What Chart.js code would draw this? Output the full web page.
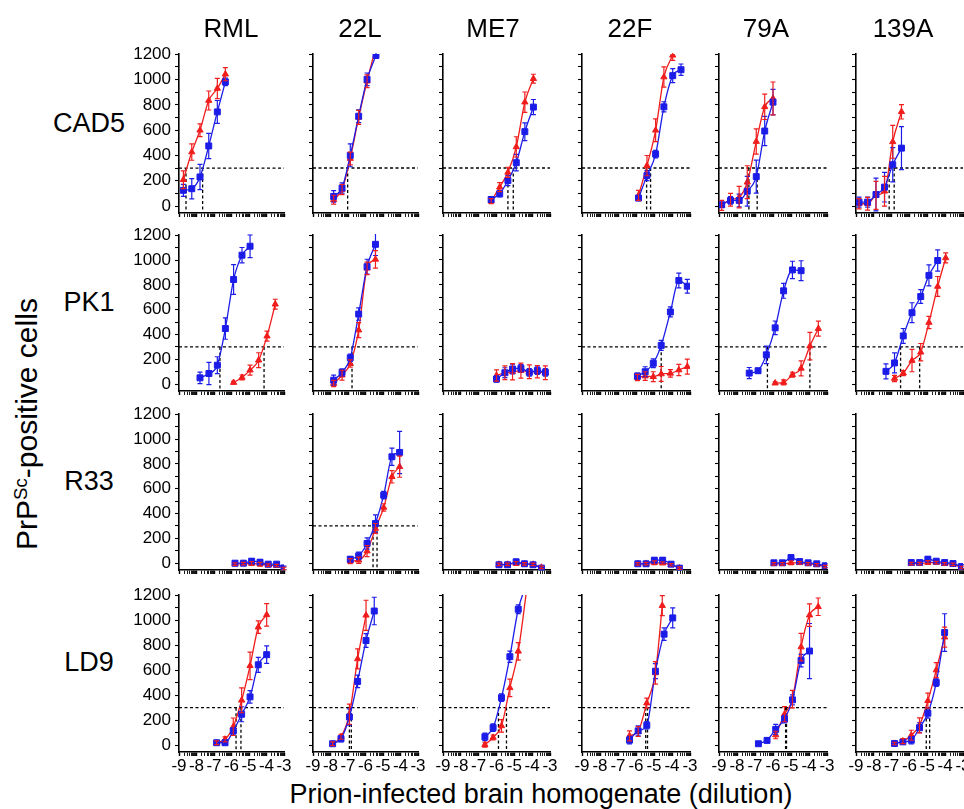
<!DOCTYPE html>
<html><head><meta charset="utf-8">
<script src="https://cdn.jsdelivr.net/npm/chart.js@4.4.1/dist/chart.umd.min.js"></script>
<style>
html,body{margin:0;padding:0;background:#fff;}
#fig{position:relative;width:964px;height:809px;overflow:hidden;background:#fff;font-family:"Liberation Sans",Arial,sans-serif;color:#000;}
.lbl{position:absolute;line-height:1;white-space:nowrap;transform:translate(-50%,-50%);}
.ytitle{position:absolute;line-height:1;white-space:nowrap;transform:translate(-50%,-50%) rotate(-90deg);}
.ytitle sup{font-size:0.62em;vertical-align:0.55em;line-height:0;}
canvas{position:absolute;}
</style></head><body><div id="fig"></div>
<script>
// ---------- data ----------
const strains = ['RML', '22L', 'ME7', '22F', '79A', '139A'];
const cellLines = ['CAD5', 'PK1', 'R33', 'LD9'];
const xTickLabels = [-9, -8, -7, -6, -5, -4, -3];
const yTickValues = [0, 100, 200, 300, 400, 500, 600, 700, 800, 900, 1000, 1100, 1200];
const threshold = 300;

// CAD5 row (one inner array per strain)
const cad5BlueX = [[-8.75,-8.27,-7.8,-7.3,-6.81,-6.35],[-7.82,-7.34,-6.87,-6.39,-5.91,-5.4],[-6.3,-5.82,-5.36,-4.89,-4.41,-3.93],[-5.86,-5.39,-4.91,-4.45,-3.96,-3.5],[-8.85,-8.36,-7.88,-7.43,-6.93,-6.46,-6.0],[-8.83,-8.35,-7.88,-7.4,-6.94,-6.45]];
const cad5BlueY = [[124,137,230,475,744,981],[76,142,400,709,1000,1190],[52,97,201,342,587,781],[63,240,410,783,1029,1076],[10,44,44,117,232,592,820],[31,31,91,149,326,457]];
const cad5BlueErr = [[47,80,100,100,90,30],[45,40,90,50,50,25],[20,25,40,65,70,60],[20,40,30,40,55,45],[20,30,50,117,130,115,100],[40,40,130,117,135,170]];
const cad5RedX = [[-8.75,-8.27,-7.8,-7.3,-6.81,-6.35],[-7.82,-7.34,-6.87,-6.39,-5.91,-5.4],[-6.3,-5.82,-5.36,-4.89,-4.41,-3.93],[-5.86,-5.39,-4.91,-4.45,-3.96],[-8.85,-8.36,-7.88,-7.43,-6.93,-6.46,-6.0],[-8.83,-8.35,-7.88,-7.4,-6.94,-6.45]];
const cad5RedY = [[208,427,599,834,929,1042],[50,130,375,700,985,1260],[39,149,266,467,820,1005],[84,319,598,1018,1190],[5,50,70,188,509,783,849],[18,18,84,117,507,744]];
const cad5RedErr = [[70,65,50,75,80,52],[35,40,50,55,50,0],[20,35,40,80,80,35],[40,80,90,80,40],[40,50,85,130,100,100,130],[40,50,110,117,130,57]];
const cad5Cross = [[-7.65,-8.6],[-7.02],[-5.06,-5.36],[-5.19,-5.41],[-6.88,-7.34],[-6.86,-7.14]];

// PK1 row
const pk1BlueX = [[-7.8,-7.29,-6.81,-6.35,-5.88,-5.4,-4.94],[-7.82,-7.34,-6.87,-6.39,-5.91,-5.43],[-6.0,-5.53,-5.1,-4.63,-4.16,-3.71,-3.26],[-5.92,-5.49,-5.04,-4.6,-4.09,-3.62,-3.15],[-7.32,-6.83,-6.37,-5.88,-5.41,-4.92,-4.44],[-7.32,-6.84,-6.35,-5.86,-5.37,-4.91,-4.42]];
const pk1BlueY = [[51,86,153,448,843,1039,1111],[32,94,212,564,945,1125],[41,92,122,128,95,109,95],[65,100,168,312,581,834,788],[89,108,236,453,751,919,913],[103,171,388,575,705,875,995]];
const pk1BlueErr = [[46,90,68,86,120,62,92],[40,30,30,50,60,90],[25,40,40,30,30,30,30],[25,40,35,40,40,60,55],[45,20,70,55,60,70,80],[60,80,60,80,55,85,85]];
const pk1RedX = [[-5.88,-5.4,-4.94,-4.45,-3.97,-3.5],[-7.82,-7.34,-6.87,-6.39,-5.91,-5.43],[-6.0,-5.53,-5.1,-4.63,-4.16,-3.71,-3.26],[-5.92,-5.49,-5.04,-4.6,-4.09,-3.62,-3.15],[-5.88,-5.41,-4.92,-4.44,-3.95,-3.48],[-6.84,-6.35,-5.86,-5.37,-4.91,-4.42,-3.97]];
const pk1RedY = [[13,54,113,193,387,644],[5,72,166,435,932,1004],[70,92,100,109,100,100,92],[54,65,60,82,87,114,141],[8,14,76,127,306,447],[46,89,190,257,496,786,1016]];
const pk1RedErr = [[10,20,40,60,40,40],[25,40,30,60,50,70],[45,55,65,60,55,50,55],[25,35,40,60,30,45,60],[10,20,20,60,110,60],[25,20,90,70,50,80,40]];
const pk1Cross = [[-6.66,-4.14],[-6.77],null,[-4.6],[-6.31,-3.95],[-6.5,-5.43]];

// R33 row
const r33BlueX = [[-5.8,-5.32,-4.85,-4.37,-3.9,-3.42,-3.0],[-6.87,-6.39,-5.91,-5.43,-4.96,-4.49,-4.05],[-5.86,-5.38,-4.9,-4.43,-3.95,-3.48],[-5.9,-5.44,-4.98,-4.52,-4.05,-3.59],[-5.95,-5.48,-5.0,-4.52,-4.05,-3.57,-3.1],[-5.9,-5.43,-4.97,-4.5,-4.03,-3.56,-3.09]];
const r33BlueY = [[0,0,16,8,-8,-8,-38],[32,59,158,319,547,856,891],[-13,-13,11,-5,-13,-40],[-5,-5,24,24,-8,-40],[3,3,45,13,3,-5,-21],[5,5,32,16,5,-3,-27]];
const r33BlueErr = [[15,15,20,20,15,15,15],[20,30,45,70,30,70,170],[15,15,20,15,15,15],[15,15,20,20,15,15],[15,15,20,15,15,15,15],[15,15,20,15,15,15,15]];
const r33RedX = [[-5.8,-5.32,-4.85,-4.37,-3.9,-3.42,-3.0],[-6.87,-6.39,-5.91,-5.43,-4.96,-4.49,-4.05],[-5.86,-5.38,-4.9,-4.43,-3.95,-3.48],[-5.9,-5.44,-4.98,-4.52,-4.05,-3.59],[-5.95,-5.48,-5.0,-4.52,-4.05,-3.57,-3.1],[-5.9,-5.43,-4.97,-4.5,-4.03,-3.56,-3.09]];
const r33RedY = [[-8,-3,-3,-8,-16,-19,-43],[16,24,97,279,448,695,776],[-10,-10,-3,-5,-10,-34],[-5,-3,3,0,-13,-40],[-5,-5,3,3,-5,-13,-27],[-3,-3,5,5,-5,-10,-35]];
const r33RedErr = [[10,10,15,15,10,10,10],[20,25,45,40,30,50,85],[10,10,15,10,10,10],[10,10,15,10,10,10],[10,10,15,10,10,10,10],[10,10,15,10,10,10,10]];
const r33Cross = [null,[-5.57,-5.34],null,null,null,null];

// LD9 row
const ld9BlueX = [[-6.85,-6.37,-5.9,-5.42,-4.94,-4.47,-3.99],[-7.88,-7.4,-6.92,-6.45,-5.97,-5.5],[-6.65,-6.19,-5.72,-5.25,-4.78,-4.31],[-6.36,-5.88,-5.4,-4.92,-4.44,-3.96],[-6.81,-6.33,-5.85,-5.36,-4.92,-4.44,-3.97],[-6.84,-6.37,-5.9,-5.44,-4.97,-4.5,-4.03]];
const ld9BlueY = [[19,19,113,247,386,643,724],[11,51,225,509,836,1072],[66,140,379,707,1086,1290],[40,114,159,591,887,1017],[11,38,126,207,362,676,752],[13,26,39,139,255,500,900]];
const ld9BlueErr = [[15,15,25,60,50,60,70],[15,25,65,50,55,110],[30,30,30,45,35,0],[30,40,30,60,50,80],[15,20,40,30,40,50,220],[10,15,30,40,40,30,150]];
const ld9RedX = [[-6.85,-6.37,-5.9,-5.42,-4.94,-4.47,-3.99],[-7.88,-7.4,-6.92,-6.45,-5.97],[-6.65,-6.19,-5.72,-5.25,-4.78,-4.31],[-6.36,-5.88,-5.4,-4.92,-4.54],[-5.85,-5.36,-4.92,-4.44,-3.97,-3.49],[-6.84,-6.37,-5.9,-5.44,-4.97,-4.5,-4.03]];
const ld9RedY = [[19,46,147,359,635,944,1043],[11,67,247,689,1038],[3,61,154,458,750,1240],[74,109,336,577,1115],[81,247,368,784,1039,1106],[13,32,79,158,355,600,863]];
const ld9RedErr = [[15,20,70,100,110,50,90],[15,20,80,80,120],[20,20,50,70,70,0],[40,40,40,90,80],[30,60,70,110,90,70],[10,20,40,60,60,60,80]];
const ld9Cross = [[-5.46,-5.74],[-6.81,-6.92],[-5.89,-5.44],[-5.36,-5.46],[-5.25,-5.3],[-4.87,-5.06]];

// ---------- layout / style ----------
const FONT = '"Liberation Sans", Arial, sans-serif';
const colAxisX = [179, 313, 443, 582, 719, 856];
const colPlotW = [105, 105, 107, 108, 108, 107];
const colHeadX = [231, 360, 493, 630, 766, 903];
const rowTop = [54, 235, 414, 595];
const rowPlotH = [159, 156, 156, 157];
const rowLabelY = [123, 302, 481, 662];
const Y_MIN = -55, Y_MAX = 1200;
const BLUE = '#1c1ce8', RED = '#f01d1d';

const rows = [
  {bx: cad5BlueX, by: cad5BlueY, be: cad5BlueErr, rx: cad5RedX, ry: cad5RedY, re: cad5RedErr, cross: cad5Cross},
  {bx: pk1BlueX, by: pk1BlueY, be: pk1BlueErr, rx: pk1RedX, ry: pk1RedY, re: pk1RedErr, cross: pk1Cross},
  {bx: r33BlueX, by: r33BlueY, be: r33BlueErr, rx: r33RedX, ry: r33RedY, re: r33RedErr, cross: r33Cross},
  {bx: ld9BlueX, by: ld9BlueY, be: ld9BlueErr, rx: ld9RedX, ry: ld9RedY, re: ld9RedErr, cross: ld9Cross}
];

const xTickPositions = [];
xTickLabels.forEach(n => {
  xTickPositions.push(n);
  if (n < -3) for (let k = 2; k <= 9; k++) xTickPositions.push(n + Math.log10(k));
});

const fig = document.getElementById('fig');
function addLabel(html, x, y, size, cls) {
  const d = document.createElement('div');
  d.className = cls || 'lbl';
  d.style.left = x + 'px'; d.style.top = y + 'px'; d.style.fontSize = size + 'px';
  d.innerHTML = html;
  fig.appendChild(d);
}

const errorBars = {
  id: 'errorBars',
  afterDatasetsDraw(chart) {
    const {ctx, chartArea, scales: {x, y}} = chart;
    ctx.save();
    ctx.beginPath();
    ctx.rect(chartArea.left - 4, chartArea.top - 1, chartArea.right - chartArea.left + 8, chartArea.bottom - chartArea.top + 2);
    ctx.clip();
    chart.data.datasets.forEach(ds => {
      if (!ds.errors) return;
      ctx.strokeStyle = ds.borderColor;
      ctx.lineWidth = 1.2;
      ds.data.forEach((pt, j) => {
        const e = ds.errors[j];
        if (!e) return;
        const px = x.getPixelForValue(pt.x);
        const t = y.getPixelForValue(pt.y + e), b = y.getPixelForValue(pt.y - e);
        ctx.beginPath();
        ctx.moveTo(px, t); ctx.lineTo(px, b);
        ctx.moveTo(px - 2.5, t); ctx.lineTo(px + 2.5, t);
        ctx.moveTo(px - 2.5, b); ctx.lineTo(px + 2.5, b);
        ctx.stroke();
      });
    });
    ctx.restore();
  }
};

function series(xs, ys, errs, color, style, radius) {
  return {
    data: xs.map((v, i) => ({x: v, y: ys[i]})),
    errors: errs,
    borderColor: color, backgroundColor: color,
    pointBackgroundColor: color, pointBorderColor: color,
    pointStyle: style, pointRadius: radius, pointBorderWidth: 1,
    borderWidth: 1.3, cubicInterpolationMode: 'monotone', order: 1
  };
}

function dashed(points) {
  return {data: points, borderColor: '#000', borderWidth: 1.3, borderDash: [3, 2.5],
          pointRadius: 0, order: 10, clip: 0};
}

function makeConfig(r, c) {
  const R = rows[r];
  const datasets = [];
  const cross = R.cross[c];
  if (cross) {
    datasets.push(dashed([{x: -9, y: threshold}, {x: -3, y: threshold}]));
    cross.forEach(cx => datasets.push(dashed([{x: cx, y: threshold}, {x: cx, y: Y_MIN}])));
  }
  datasets.push(series(R.bx[c], R.by[c], R.be[c], BLUE, 'rect', 4.2));
  datasets.push(series(R.rx[c], R.ry[c], R.re[c], RED, 'triangle', 3.6));
  return {
    type: 'line',
    data: {datasets},
    plugins: [errorBars],
    options: {
      responsive: false, maintainAspectRatio: false, animation: false, events: [],
      layout: {padding: {top: 14, right: 14, left: 0, bottom: 0}},
      plugins: {legend: {display: false}, tooltip: {enabled: false}, title: {display: false}},
      scales: {
        x: {
          type: 'linear', min: -9, max: -3,
          afterBuildTicks: s => { s.ticks = xTickPositions.map(v => ({value: v})); },
          afterFit: s => { s.height = 26; },
          grid: {display: true, drawOnChartArea: false, drawTicks: true, tickLength: 4, tickColor: '#000',
                 tickWidth: ctx => (ctx.tick && Number.isInteger(Math.round(ctx.tick.value * 1e6) / 1e6)) ? 1.4 : 0.9},
          border: {display: true, color: '#000', width: 1.6},
          ticks: {display: r === 3, autoSkip: false, maxRotation: 0, minRotation: 0, padding: 0, color: '#000',
                  font: {family: FONT, size: 17},
                  callback: v => Number.isInteger(Math.round(v * 1e6) / 1e6) ? String(Math.round(v)) : ''}
        },
        y: {
          type: 'linear', min: Y_MIN, max: Y_MAX,
          afterBuildTicks: s => { s.ticks = yTickValues.map(v => ({value: v})); },
          afterFit: s => { s.width = 50; },
          grid: {display: true, drawOnChartArea: false, drawTicks: true, tickLength: 4, tickColor: '#000', tickWidth: 1.1},
          border: {display: true, color: '#000', width: 1.6},
          ticks: {display: c === 0, autoSkip: false, padding: 4, color: '#000',
                  font: {family: FONT, size: 17},
                  callback: v => (v % 200 === 0) ? String(v) : ''}
        }
      }
    }
  };
}

function buildPanel(r, c) {
  const canvas = document.createElement('canvas');
  fig.appendChild(canvas);
  const left = colAxisX[c], top = rowTop[r], w = colPlotW[c], h = rowPlotH[r];
  let W = w + 64, H = h + 40, chart = null;
  for (let k = 0; k < 4; k++) {
    canvas.width = W; canvas.height = H;
    canvas.style.width = W + 'px'; canvas.style.height = H + 'px';
    chart = new Chart(canvas, makeConfig(r, c));
    const a = chart.chartArea;
    const dw = Math.round(w - (a.right - a.left)), dh = Math.round(h - (a.bottom - a.top));
    if ((dw === 0 && dh === 0) || k === 3) {
      canvas.style.left = (left - a.left) + 'px';
      canvas.style.top = (top - a.top) + 'px';
      return chart;
    }
    chart.destroy();
    W += dw; H += dh;
  }
}

for (let r = 0; r < 4; r++) for (let c = 0; c < 6; c++) buildPanel(r, c);

strains.forEach((s, c) => addLabel(s, colHeadX[c], 28, 26));
cellLines.forEach((s, r) => addLabel(s, 89, rowLabelY[r], 27));
addLabel('Prion-infected brain homogenate (dilution)', 541, 794, 27);
addLabel('PrP<sup>Sc</sup>-positive cells', 27, 424, 30, 'ytitle');
</script></body></html>
